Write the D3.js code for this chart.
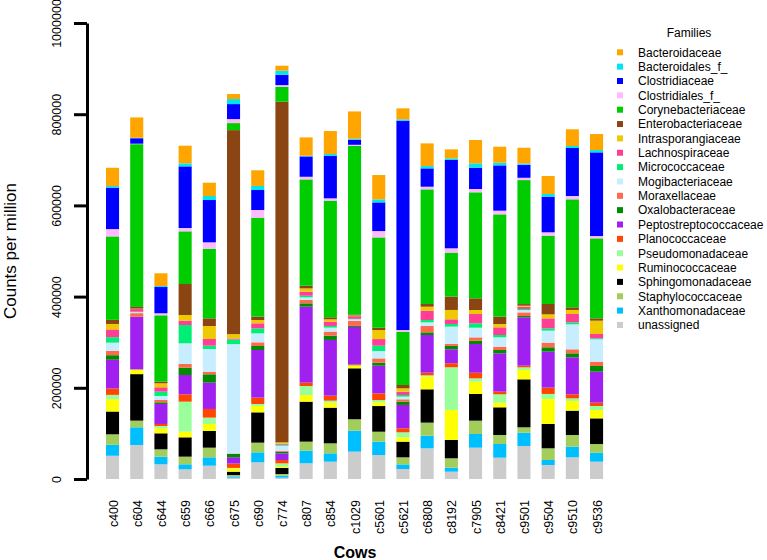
<!DOCTYPE html>
<html><head><meta charset="utf-8">
<script src="https://cdn.jsdelivr.net/npm/d3@7/dist/d3.min.js"></script>
<style>body{margin:0;background:#fff}svg{display:block}text{font-family:"Liberation Sans",Arial,sans-serif}</style>
</head><body>
<svg id="chart" width="767" height="560"></svg>
<script>
const cows = ["c400","c604","c644","c659","c666","c675","c690","c774","c807","c854","c1029","c5601","c5621","c6808","c8192","c7905","c8421","c9501","c9504","c9510","c9536"];
// legend order (top of legend = top of stack)
const families = ["Bacteroidaceae","Bacteroidales_f_","Clostridiaceae","Clostridiales_f_","Corynebacteriaceae","Enterobacteriaceae","Intrasporangiaceae","Lachnospiraceae","Micrococcaceae","Mogibacteriaceae","Moraxellaceae","Oxalobacteraceae","Peptostreptococcaceae","Planococcaceae","Pseudomonadaceae","Ruminococcaceae","Sphingomonadaceae","Staphylococcaceae","Xanthomonadaceae","unassigned"];
const familyColors = ["#FFA500","#00E5EE","#0000FF","#FFBBFF","#00CD00","#8B4513","#EEC900","#FF3E96","#00EE76","#C6EEFF","#FF6A4D","#008B00","#A020F0","#FF4500","#9AFF9A","#FFFF00","#000000","#A2CD5A","#00BFFF","#CCCCCC"];
const yTicks = [0,200000,400000,600000,800000,1000000];

const Bacteroidaceae = [40000,44600,27800,38700,29200,11000,34400,11000,40200,50400,60000,53400,24100,49700,19700,51200,35100,34400,39500,36600,35100];
const Bacteroidales_f_ = [3500,1000,2200,6600,8800,11000,8800,8800,1500,3600,2200,6600,2900,5100,3600,9500,5800,2900,5800,4400,5100];
const Clostridiaceae = [91000,12000,57700,135200,92800,32900,43900,22700,44600,93600,11000,62900,459100,40200,193700,46800,99400,28500,78200,105300,183500];
const Clostridiales_f_ = [16000,1000,4400,7300,13900,8800,16800,3600,5800,5100,2200,13900,3600,5800,9500,7300,8000,5100,7300,7300,5100];
const Corynebacteriaceae = [183000,357000,145500,115500,152800,15400,217100,32900,233200,255800,370600,198100,117000,251500,96500,232500,224400,271900,149900,236800,175400];
const Enterobacteriaceae = [9000,3600,3600,68000,16800,447400,7300,747000,5800,4400,1500,5100,7300,5800,29200,25600,16100,3600,22700,5800,5100];
const Intrasporangiaceae = [12000,1000,8800,12400,28500,9500,7300,2900,7300,5100,1500,19700,7300,8800,20500,8800,7300,2200,8800,8800,29200];
const Lachnospiraceae = [17000,5800,9500,9500,14600,2200,11000,2200,8800,9500,5800,14600,7300,20500,10200,20500,16800,5100,21900,18300,9500];
const Micrococcaceae = [12000,1000,9500,40200,7300,10200,11000,2200,3600,3600,1000,11700,3600,5100,5800,9500,5100,2200,5100,4400,2200];
const Mogibacteriaceae = [18000,2200,8800,45300,49700,239800,19700,11000,5800,8800,3600,16100,5800,8000,38000,21200,20500,5100,26300,54800,49000];
const Moraxellaceae = [9500,8000,5100,8000,5800,1000,8000,2200,7300,8800,11000,9500,5100,13900,4400,7300,7300,8000,10200,8800,9500];
const Oxalobacteraceae = [10000,0,3600,16100,18300,7300,8800,3600,7300,9500,2200,6600,7300,5800,7300,7300,7300,2900,9500,8800,12400];
const Peptostreptococcaceae = [63000,115500,43900,42400,57700,13900,104500,14600,166700,122100,81900,60700,51200,82600,30700,62900,84100,106000,78900,81100,68000];
const Planococcaceae = [14000,0,4400,16100,19000,9500,13900,7300,7300,11000,2200,14600,8800,5800,8800,12400,5800,3600,13900,8800,7300];
const Pseudomonadaceae = [9500,0,5100,65800,13900,1000,4400,7300,19700,4400,1500,5100,11000,2900,93600,7300,18300,5800,11000,5800,8800];
const Ruminococcaceae = [27000,10200,11000,12400,15400,7300,13900,2900,14600,11000,5100,8000,9500,27800,65800,27000,10200,20500,54800,21200,18300];
const Sphingomonadaceae = [50000,102000,35100,42400,36600,7300,66500,13200,87700,78200,111800,56300,34400,73100,40200,58500,60700,105300,53400,53400,56300];
const Staphylococcaceae = [23000,14600,16100,16800,21200,2900,21200,3600,19700,21900,24900,21900,15400,28500,20500,29200,19700,11700,25600,25600,19000];
const Xanthomonadaceae = [24000,38800,16800,11000,18300,2900,21900,4400,27800,18300,46100,29200,10200,27800,8800,30000,30000,29200,11000,23400,19700];
const unassigned = [51000,74600,32200,21200,29200,2900,36600,2900,34400,38000,60000,52600,21900,67300,16100,68700,46800,72400,30700,47500,38000];

const seriesByFamily = {Bacteroidaceae,Bacteroidales_f_,Clostridiaceae,Clostridiales_f_,Corynebacteriaceae,Enterobacteriaceae,Intrasporangiaceae,Lachnospiraceae,Micrococcaceae,Mogibacteriaceae,Moraxellaceae,Oxalobacteraceae,Peptostreptococcaceae,Planococcaceae,Pseudomonadaceae,Ruminococcaceae,Sphingomonadaceae,Staphylococcaceae,Xanthomonadaceae,unassigned};

const table = cows.map((c,i)=>{const r={cow:c};families.forEach(f=>r[f]=seriesByFamily[f][i]);return r;});
const stackKeys = families.slice().reverse(); // unassigned at bottom
const stacked = d3.stack().keys(stackKeys)(table);
const color = d3.scaleOrdinal().domain(families).range(familyColors);

const svg = d3.select("#chart");
const x = d3.scaleBand().domain(cows).range([93.9,615.2]).paddingInner(0.46).paddingOuter(0.5);
const y = d3.scaleLinear().domain([0,1000000]).range([479,23]);

svg.append("g").selectAll("g").data(stacked).join("g")
  .attr("fill",d=>color(d.key))
  .selectAll("rect").data(d=>d).join("rect")
  .attr("x",d=>x(d.data.cow))
  .attr("width",x.bandwidth())
  .attr("y",d=>y(d[1]))
  .attr("height",d=>Math.max(0,y(d[0])-y(d[1])));

// y axis
const yAxis = svg.append("g").attr("transform","translate(87,0)")
  .call(d3.axisLeft(y).tickValues(yTicks).tickSize(13).tickSizeOuter(0).tickFormat(d3.format("d")));
yAxis.select(".domain").attr("stroke","#000").attr("stroke-width",3);
yAxis.selectAll(".tick line").attr("stroke","#000").attr("stroke-width",3);
yAxis.selectAll(".tick text")
  .attr("font-size",12.5).attr("fill","#000")
  .attr("transform","rotate(-90)")
  .attr("x",0).attr("y",-26).attr("dy",0)
  .attr("text-anchor","middle");

// x labels
const xAxis = svg.append("g").attr("transform","translate(0,479)")
  .call(d3.axisBottom(x).tickSize(0));
xAxis.select(".domain").remove();
xAxis.selectAll(".tick text")
  .attr("font-size",12.5).attr("fill","#000")
  .attr("transform","rotate(-90)")
  .attr("x",-21).attr("y",5).attr("dy",0)
  .attr("text-anchor","end");

svg.append("text").attr("transform","translate(16,251) rotate(-90)")
  .attr("text-anchor","middle").attr("font-size",17).text("Counts per million");
svg.append("text").attr("x",355).attr("y",558).attr("text-anchor","middle")
  .attr("font-size",16).attr("font-weight","bold").text("Cows");

// legend
const lg = svg.append("g");
lg.append("text").attr("x",689).attr("y",37).attr("text-anchor","middle").attr("font-size",12).text("Families");
const items = lg.selectAll("g.item").data(families).join("g").attr("class","item")
  .attr("transform",(d,i)=>`translate(0,${52.3+14.35*i})`);
items.append("rect").attr("x",617).attr("y",-3).attr("width",6).attr("height",6).attr("fill",d=>color(d));
items.append("text").attr("x",638).attr("y",4.3).attr("font-size",12).text(d=>d);
</script>
</body></html>
